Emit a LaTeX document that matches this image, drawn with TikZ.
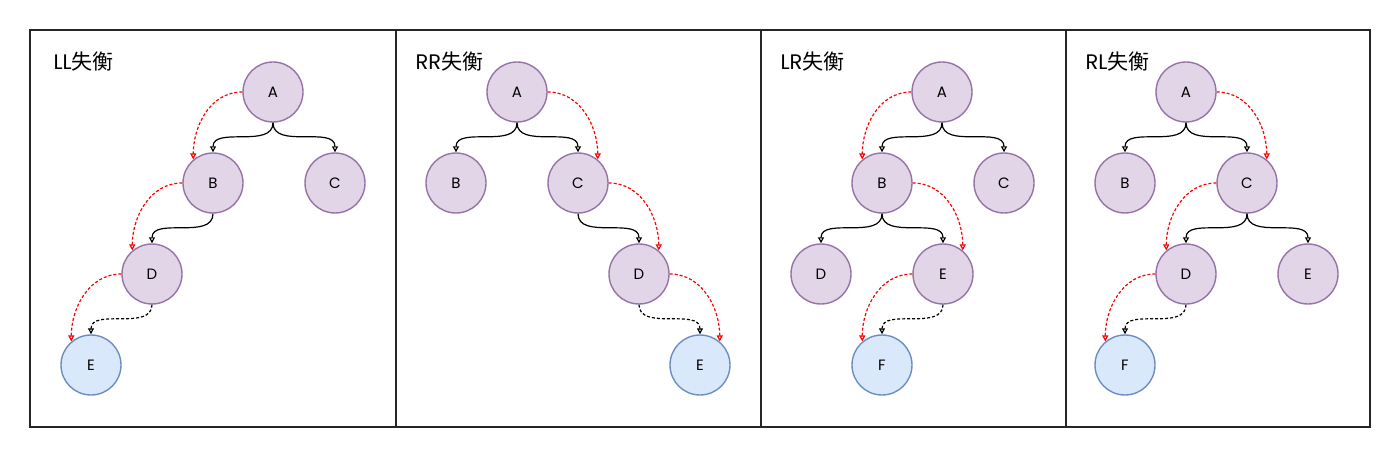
\documentclass[tikz,border=0pt]{standalone}
\usepackage{fontspec}
\setmainfont{Poppins}
\newfontfamily\cjk{Noto Sans CJK SC}
\usetikzlibrary{arrows.meta}

\definecolor{nodefill}{HTML}{E1D5E7}
\definecolor{nodeline}{HTML}{9673A6}
\definecolor{newfill}{HTML}{DAE8FC}
\definecolor{newline}{HTML}{6C8EBF}

\begin{document}
\begin{tikzpicture}[x=1pt,y=1pt,
			font=\fontsize{15}{15}\selectfont,
			main node/.style={circle,draw=nodeline,fill=nodefill,line width=1.4pt,minimum size=60pt,inner sep=0pt},
			new node/.style={circle,draw=newline,fill=newfill,line width=1.4pt,minimum size=60pt,inner sep=0pt},
			title/.style={anchor=west,font=\fontsize{21}{21}\selectfont},
			tree edge/.style={-{Triangle[open,length=6pt,width=6pt]},black,line width=1.2pt,out=-90,in=90},
			add edge/.style={tree edge,dashed,dash pattern=on 3pt off 2pt},
			rot edge/.style={-{Triangle[open,length=6pt,width=6pt]},red,line width=1.2pt,dashed,dash pattern=on 3pt off 2pt}
			]

			\useasboundingbox (0,0) rectangle (1400,-457);
			\draw[black!85,line width=1.2pt] (30,-30) rectangle (1370,-427);
			\foreach \x in {396,761,1066}
				\draw[black!85,line width=1.2pt] (\x,-30) -- (\x,-427);

			% LL
			\node[title] (T1) at (50,-62) {LL\cjk{失衡}};
			\node[main node] (A1) at (273,-92) {A};
			\node[main node] (B1) at (213,-183) {B};
			\node[main node] (C1) at (335,-183) {C};
			\node[main node] (D1) at (152,-274) {D};
			\node[new node] (E1) at (91,-365) {E};
			\draw[tree edge] (A1.south) to (B1.north);
			\draw[tree edge] (A1.south) to (C1.north);
			\draw[tree edge] (B1.south) to (D1.north);
			\draw[add edge] (D1.south) to (E1.north);
			\draw[rot edge] (A1.west) to[out=180,in=90] (B1.130);
			\draw[rot edge] (B1.west) to[out=180,in=90] (D1.130);
			\draw[rot edge] (D1.west) to[out=180,in=90] (E1.130);

			% RR
			\node[title] (T2) at (412,-62) {RR\cjk{失衡}};
			\node[main node] (A2) at (517,-92) {A};
			\node[main node] (B2) at (456,-183) {B};
			\node[main node] (C2) at (578,-183) {C};
			\node[main node] (D2) at (639,-274) {D};
			\node[new node] (E2) at (700,-365) {E};
			\draw[tree edge] (A2.south) to (B2.north);
			\draw[tree edge] (A2.south) to (C2.north);
			\draw[tree edge] (C2.south) to (D2.north);
			\draw[add edge] (D2.south) to (E2.north);
			\draw[rot edge] (A2.east) to[out=0,in=90] (C2.50);
			\draw[rot edge] (C2.east) to[out=0,in=90] (D2.50);
			\draw[rot edge] (D2.east) to[out=0,in=90] (E2.50);

			% LR
			\node[title] (T3) at (777,-62) {LR\cjk{失衡}};
			\node[main node] (A3) at (942,-92) {A};
			\node[main node] (B3) at (882,-183) {B};
			\node[main node] (C3) at (1004,-183) {C};
			\node[main node] (D3) at (821,-274) {D};
			\node[main node] (E3) at (943,-274) {E};
			\node[new node] (F3) at (882,-365) {F};
			\draw[tree edge] (A3.south) to (B3.north);
			\draw[tree edge] (A3.south) to (C3.north);
			\draw[tree edge] (B3.south) to (D3.north);
			\draw[tree edge] (B3.south) to (E3.north);
			\draw[add edge] (E3.south) to (F3.north);
			\draw[rot edge] (A3.west) to[out=180,in=90] (B3.130);
			\draw[rot edge] (B3.east) to[out=0,in=90] (E3.50);
			\draw[rot edge] (E3.west) to[out=180,in=90] (F3.130);

			% RL
			\node[title] (T4) at (1082,-62) {RL\cjk{失衡}};
			\node[main node] (A4) at (1186,-92) {A};
			\node[main node] (B4) at (1125,-183) {B};
			\node[main node] (C4) at (1247,-183) {C};
			\node[main node] (D4) at (1186,-274) {D};
			\node[main node] (E4) at (1308,-274) {E};
			\node[new node] (F4) at (1125,-365) {F};
			\draw[tree edge] (A4.south) to (B4.north);
			\draw[tree edge] (A4.south) to (C4.north);
			\draw[tree edge] (C4.south) to (D4.north);
			\draw[tree edge] (C4.south) to (E4.north);
			\draw[add edge] (D4.south) to (F4.north);
			\draw[rot edge] (A4.east) to[out=0,in=90] (C4.50);
			\draw[rot edge] (C4.west) to[out=180,in=90] (D4.130);
			\draw[rot edge] (D4.west) to[out=180,in=90] (F4.130);
		\end{tikzpicture}
\end{document}
